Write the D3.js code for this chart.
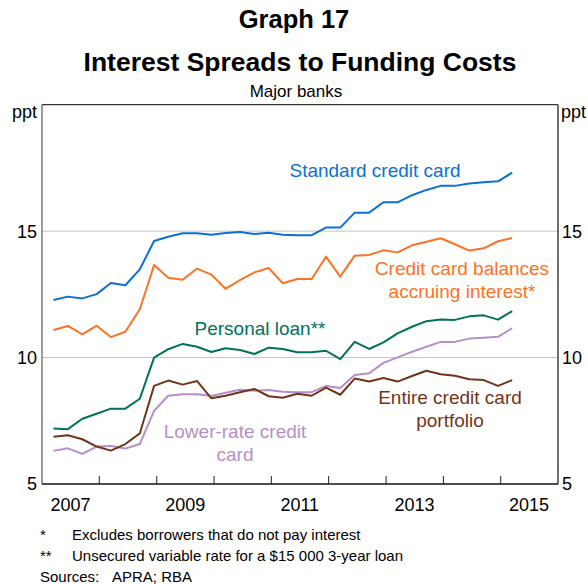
<!DOCTYPE html>
<html>
<head>
<meta charset="utf-8">
<script src="https://cdn.jsdelivr.net/npm/d3@7"></script>
<style>
  body { margin: 0; background: #fff; }
  svg { display: block; font-family: "Liberation Sans", Arial, sans-serif; }
</style>
</head>
<body>
<svg id="chart" width="588" height="584"></svg>
<script>
// quarterly, 2007 Q1 .. 2015 Q1
const startYear = 2007;
const standardCard = [12.28, 12.41, 12.34, 12.51, 12.95, 12.86, 13.49, 14.61, 14.78, 14.92, 14.92,
  14.86, 14.93, 14.97, 14.89, 14.94, 14.86, 14.84, 14.84, 15.14, 15.14, 15.73, 15.73, 16.14,
  16.14, 16.42, 16.63, 16.79, 16.79, 16.88, 16.93, 16.97, 17.31];
const accruing = [11.09, 11.25, 10.92, 11.26, 10.81, 11.02, 11.91, 13.66, 13.16, 13.08, 13.52,
  13.28, 12.72, 13.06, 13.37, 13.54, 12.94, 13.11, 13.11, 13.99, 13.2, 14.03, 14.06, 14.24,
  14.16, 14.44, 14.58, 14.72, 14.48, 14.23, 14.32, 14.6, 14.73];
const personalLoan = [7.19, 7.17, 7.58, 7.78, 7.98, 7.98, 8.37, 10.0, 10.33, 10.54, 10.43,
  10.22, 10.37, 10.3, 10.14, 10.39, 10.34, 10.21, 10.21, 10.27, 9.94, 10.62, 10.34, 10.6,
  10.96, 11.22, 11.44, 11.51, 11.49, 11.63, 11.67, 11.5, 11.84];
const entirePortfolio = [6.87, 6.93, 6.77, 6.48, 6.32, 6.58, 7.0, 8.88, 9.09, 8.93, 9.07,
  8.39, 8.49, 8.63, 8.76, 8.47, 8.41, 8.57, 8.49, 8.81, 8.53, 9.17, 9.05, 9.19,
  9.05, 9.27, 9.48, 9.34, 9.28, 9.14, 9.11, 8.88, 9.11];
const lowerRate = [6.31, 6.41, 6.19, 6.48, 6.5, 6.4, 6.58, 7.89, 8.49, 8.55, 8.55,
  8.48, 8.61, 8.73, 8.69, 8.72, 8.65, 8.63, 8.63, 8.88, 8.8, 9.31, 9.38, 9.79,
  10.01, 10.23, 10.43, 10.62, 10.62, 10.75, 10.78, 10.82, 11.16];

const yTicks = [5, 10, 15];
const yearLabels = [2007, 2009, 2011, 2013, 2015];

const series = [
  {values: lowerRate, color: "#b48fca", label: ["Lower-rate credit", "card"], lx: 235, ly: 438},
  {values: entirePortfolio, color: "#74341a", label: ["Entire credit card", "portfolio"], lx: 450, ly: 404},
  {values: personalLoan, color: "#00715a", label: ["Personal loan**"], lx: 260, ly: 335},
  {values: accruing, color: "#ff7124", label: ["Credit card balances", "accruing interest*"], lx: 462, ly: 275},
  {values: standardCard, color: "#0a71d2", label: ["Standard credit card"], lx: 375, ly: 177}
];

const svg = d3.select("#chart");
const plotL = 42, plotR = 558, plotT = 104.7, plotB = 484;

const x = d3.scaleTime()
  .domain([new Date(2007, 0, 1), new Date(2016, 0, 1)])
  .range([plotL, plotR]);
const y = d3.scaleLinear().domain([5, 20]).range([plotB, plotT]);

const qDate = i => new Date(startYear, 2 + 3 * i, 15);

// titles
svg.append("text").attr("x", 294).attr("y", 28).attr("text-anchor", "middle")
  .attr("font-size", 25.5).attr("font-weight", "bold").text("Graph 17");
svg.append("text").attr("x", 300).attr("y", 71).attr("text-anchor", "middle")
  .attr("font-size", 26.5).attr("font-weight", "bold").text("Interest Spreads to Funding Costs");
svg.append("text").attr("x", 296).attr("y", 97).attr("text-anchor", "middle")
  .attr("font-size", 17).text("Major banks");

// gridlines
svg.append("g").selectAll("line")
  .data(yTicks.filter(d => d > 5))
  .join("line")
    .attr("x1", plotL).attr("x2", plotR)
    .attr("y1", d => y(d)).attr("y2", d => y(d))
    .attr("stroke", "#c4c4c4").attr("stroke-width", 1);

// year ticks (inward)
const yearTicks = d3.range(2008, 2016).map(yr => new Date(yr, 0, 1));
svg.append("g").selectAll("line")
  .data(yearTicks)
  .join("line")
    .attr("x1", d => x(d)).attr("x2", d => x(d))
    .attr("y1", plotB).attr("y2", plotB - 8)
    .attr("stroke", "#222").attr("stroke-width", 1);

// lines
const line = d3.line()
  .x((d, i) => x(qDate(i)))
  .y(d => y(d));

series.forEach(s => {
  svg.append("path")
    .attr("d", line(s.values))
    .attr("fill", "none")
    .attr("stroke", s.color)
    .attr("stroke-width", 2)
    .attr("stroke-linejoin", "round");
  const t = svg.append("text")
    .attr("text-anchor", "middle")
    .attr("font-size", 19)
    .attr("fill", s.color);
  s.label.forEach((l, k) => {
    t.append("tspan").attr("x", s.lx).attr("y", s.ly + k * 22.5).text(l);
  });
});

// frame
svg.append("line").attr("x1", plotL).attr("x2", plotL).attr("y1", plotT).attr("y2", plotB)
  .attr("stroke", "#666").attr("stroke-width", 1.3);
svg.append("line").attr("x1", plotR).attr("x2", plotR).attr("y1", plotT).attr("y2", plotB)
  .attr("stroke", "#222").attr("stroke-width", 1.3);
svg.append("line").attr("x1", plotL).attr("x2", plotR).attr("y1", plotT).attr("y2", plotT)
  .attr("stroke", "#333").attr("stroke-width", 1.3);
svg.append("line").attr("x1", plotL).attr("x2", plotR).attr("y1", plotB).attr("y2", plotB)
  .attr("stroke", "#111").attr("stroke-width", 1.5);

// y tick labels both sides
const yl = svg.append("g").attr("font-size", 18);
yl.selectAll("text.l").data(yTicks).join("text").attr("class", "l")
  .attr("x", 37).attr("y", d => y(d)).attr("dy", "0.36em").attr("text-anchor", "end").text(d => d);
yl.selectAll("text.r").data(yTicks).join("text").attr("class", "r")
  .attr("x", 562).attr("y", d => y(d)).attr("dy", "0.36em").attr("text-anchor", "start").text(d => d);
yl.append("text").attr("x", 37).attr("y", 112).attr("dy", "0.36em").attr("text-anchor", "end").text("ppt");
yl.append("text").attr("x", 561).attr("y", 112).attr("dy", "0.36em").attr("text-anchor", "start").text("ppt");

// year labels
svg.append("g").attr("font-size", 18).selectAll("text")
  .data(yearLabels)
  .join("text")
    .attr("x", d => x(new Date(d, 6, 1)))
    .attr("y", 505).attr("dy", "0.36em")
    .attr("text-anchor", "middle")
    .text(d => d);

// notes
const notes = svg.append("g").attr("font-size", 15);
notes.append("text").attr("x", 40).attr("y", 540).text("*");
notes.append("text").attr("x", 72).attr("y", 540).text("Excludes borrowers that do not pay interest");
notes.append("text").attr("x", 40).attr("y", 561).text("**");
notes.append("text").attr("x", 72).attr("y", 561).text("Unsecured variable rate for a $15\u00a0000 3-year loan");
notes.append("text").attr("x", 40).attr("y", 582).text("Sources:");
notes.append("text").attr("x", 112).attr("y", 582).text("APRA; RBA");
</script>
</body>
</html>
